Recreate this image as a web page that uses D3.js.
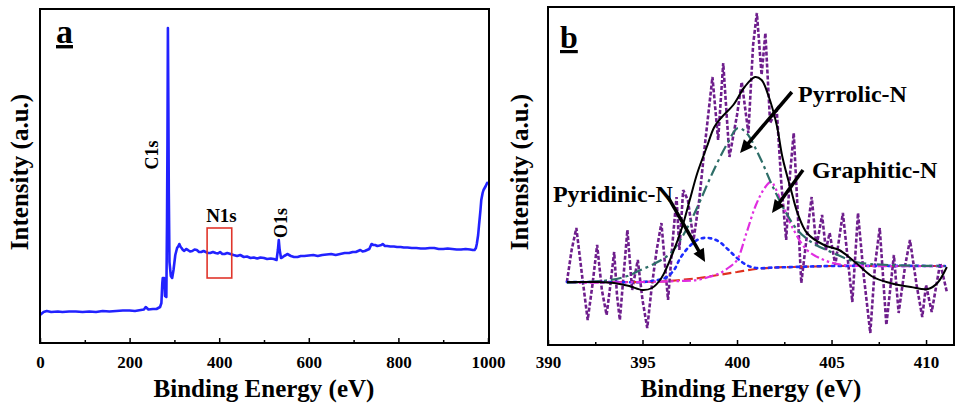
<!DOCTYPE html>
<html>
<head>
<meta charset="utf-8">
<script src="https://cdn.jsdelivr.net/npm/d3@7"></script>
<style>
  body { margin: 0; background: #fff; }
  text { font-family: "Liberation Serif", "Times New Roman", serif; font-weight: bold; fill: #000; }
</style>
</head>
<body>
<svg id="chart" width="956" height="405"></svg>
<script>
// ---- data ----
// survey spectrum, [binding energy eV, intensity a.u.]
var survey = [
  [0,28],[8,31],[15,32],[25,31],[40,31.5],[50,31],[65,31.5],[80,31.5],[95,31],[110,31.5],[125,31],[140,32],
  [155,31.5],[170,32],[185,32.5],[200,32.5],[212,32],[225,33],[232,33.5],[236,36],[242,33.5],[252,34],
  [260,34],[268,36],[271,40],[273,60],[274,65],[277,65],[278,58],[279,47],[282,46],[283.5,120],
  [284.5,200],[285.5,315],[286.5,240],[287.5,150],[289,81],[292,67],[295,65],[298,73],[302,88],
  [306,95],[309,97],[311,99],[314,96],[316,95],[319,93],[322,92],[326,94],[330,93],[335,91.5],[340,92],
  [345,93.5],[350,93],[355,91],[360,91],[365,92],[370,91],[375,90],[380,90],[386,91],[392,90],[397,89.5],
  [402,91],[407,89],[412,89],[418,90],[425,89],[432,88],[440,87],[447,88],[455,86],[462,86.5],[470,85],
  [477,85.5],[485,84.5],[492,85.5],[500,85],[507,84],[515,84.5],[522,84],[528,83],[531,93],[533,103],
  [535,93],[538,85],[542,86],[545,87],[549,88],[552,89],[556,88],[560,87],[567,86],[575,86],[582,87],
  [590,87],[600,87.5],[610,88],[620,87],[630,88],[640,88.5],[650,89],[660,88],[670,89],[680,90],[690,90],
  [698,91],[705,91],[710,92],[715,93],[720,91.5],[725,92],[730,93],[735,94],[738,97],[740,99],[744,98],
  [748,98],[753,97],[758,97.5],[762,98],[765,99],[770,97],[775,97],[782,96.5],[790,96.5],[797,96],
  [805,96],[812,95.5],[820,95.5],[830,95],[840,95],[850,94.5],[860,94.5],[870,95],[880,95],[890,94],
  [900,94],[910,94.5],[920,94],[930,93.5],[940,93.5],[950,94],[960,93.5],[966,93],[970,93],[973,95],
  [975,99],[978,108],[980,118],[983,132],[985,143],[988,150],[990,153],[995,157],[998,160],[1000,161]
];

// N1s high resolution, raw counts
var n1sRaw = [
  [391.0,63],[391.25,95],[391.5,117],[391.8,70],[392.1,25],[392.35,60],[392.6,100],[392.85,55],[393.1,30],
  [393.3,60],[393.5,93],[393.65,50],[393.8,25],[394.0,70],[394.2,115],[394.45,55],[394.75,85],[395.0,45],
  [395.25,17],[395.5,60],[395.75,95],[396.0,122],[396.35,45],[396.6,105],[396.8,148],[396.95,95],
  [397.15,155],[397.4,145],[397.7,105],[398.0,145],[398.3,200],[398.7,268],[399.0,205],[399.27,282],
  [399.6,188],[400.0,230],[400.25,263],[400.6,212],[400.85,300],[401.05,332],[401.3,270],[401.5,312],
  [401.75,222],[402.1,235],[402.35,160],[402.6,105],[402.8,170],[403.0,212],[403.4,62],[403.7,110],
  [403.95,148],[404.2,98],[404.5,130],[404.7,95],[404.9,112],[405.2,80],[405.6,132],[406.1,43],
  [406.4,132],[406.7,70],[407.05,12],[407.3,80],[407.55,117],[407.9,20],[408.3,90],[408.55,32],
  [408.9,80],[409.15,105],[409.5,60],[409.8,28],[410.0,60],[410.3,33],[410.75,82],[411.1,53]
];

var n1sBackground = [
  [391,63],[392,63],[393,63],[394,63],[395,63],[396,63.5],[397,65],[398,67],[399,70],[400,73],
  [401,76],[402,77.5],[403,78],[404,78.5],[405,79],[406,79],[408,79],[411,79]
];

var pyridinicN = [
  [391,63],[393,63],[395,63],[395.8,65],[396.3,68],[396.7,76],[397.0,87],[397.5,99],[398.0,106],
  [398.5,107],[399.0,104],[399.5,96],[400.0,87],[400.5,80],[401,77],[402,77.5],[403,78],[405,79],[411,79]
];

var pyrrolicN = [
  [391,62],[392,63],[393.3,65],[394.2,69],[394.9,75],[395.7,82],[396.5,92],[397.0,105],[397.5,122],
  [398.0,142],[398.7,172],[399.5,202],[400.05,217],[400.5,212],[401.2,188],[401.9,158],[402.6,132],
  [403.2,115],[404.0,102],[405.1,92],[406.3,83],[408,80],[411,79]
];

var graphiticN = [
  [391,62],[395,63],[397,64],[397.9,65],[398.5,68],[399.1,72],[399.6,78],[400.0,85],[400.5,112],
  [401.0,140],[401.5,158],[401.8,163],[402.3,145],[403.0,115],[403.7,95],[404.6,85],[405.6,80],
  [407,79],[411,79]
];

var n1sEnvelope = [
  [391,63],[392.5,63],[393.5,62],[394.3,59],[395.0,55],[395.5,57],[396.0,67],[396.6,92],[397.1,118],
  [397.5,145],[397.9,172],[398.4,198],[398.8,218],[399.2,228],[399.8,240],[400.4,258],[400.95,268],
  [401.3,265],[401.65,250],[402.1,220],[402.4,188],[402.9,152],[403.2,132],[403.7,112],[404.6,100],
  [405.4,95],[406.3,82],[407.2,68],[408.1,62],[409.2,58],[410.1,56],[410.6,62],[411.1,78]
];

var surveyTicks = [0, 200, 400, 600, 800, 1000];
var surveyMinor = [100, 300, 500, 700, 900];
var n1sTicks = [390, 395, 400, 405, 410];
var n1sMinor = [392.5, 397.5, 402.5, 407.5];

// ---- drawing ----
var svg = d3.select("#chart");
svg.append("rect").attr("width", 956).attr("height", 405).attr("fill", "#fff");

function drawAxis(g, x, y0, major, minor, pad) {
  g.append("g")
    .attr("transform", "translate(0," + y0 + ")")
    .call(d3.axisBottom(x).tickValues(major).tickSize(-5).tickPadding(pad).tickFormat(d3.format("d")))
    .call(function(a) {
      a.select(".domain").remove();
      a.selectAll("line").attr("stroke", "#000").attr("stroke-width", 1.5);
      a.selectAll("text").attr("font-size", 17).style("font-family", '"Liberation Serif", serif').style("font-weight", "bold");
    });
  g.append("g")
    .attr("transform", "translate(0," + y0 + ")")
    .call(d3.axisBottom(x).tickValues(minor).tickSize(-3).tickFormat(""))
    .call(function(a) {
      a.select(".domain").remove();
      a.selectAll("line").attr("stroke", "#000").attr("stroke-width", 1.5);
    });
}

function arrow(g, x1, y1, x2, y2) {
  var dx = x2 - x1, dy = y2 - y1, L = Math.hypot(dx, dy), ux = dx / L, uy = dy / L;
  var hl = 13, hw = 6;
  var bx = x2 - ux * hl, by = y2 - uy * hl;
  g.append("line").attr("x1", x1).attr("y1", y1).attr("x2", bx + ux * 2).attr("y2", by + uy * 2)
    .attr("stroke", "#000").attr("stroke-width", 3.5);
  g.append("path")
    .attr("d", "M" + x2 + "," + y2 + "L" + (bx - uy * hw) + "," + (by + ux * hw) + "L" + (bx + uy * hw) + "," + (by - ux * hw) + "Z")
    .attr("fill", "#000");
}

// panel a: survey
var xa = d3.scaleLinear().domain([0, 1000]).range([40, 488]);
var ya = d3.scaleLinear().domain([0, 334]).range([343, 9]);
var ga = svg.append("g");

ga.append("path")
  .datum(survey)
  .attr("fill", "none")
  .attr("stroke", "#2222ff")
  .attr("stroke-width", 2.6)
  .attr("stroke-linejoin", "round")
  .attr("d", d3.line().x(d => xa(d[0])).y(d => ya(d[1])));

// N1s window
ga.append("rect")
  .attr("x", xa(373)).attr("y", ya(115))
  .attr("width", xa(428) - xa(373)).attr("height", ya(65) - ya(115))
  .attr("fill", "none").attr("stroke", "#e0352b").attr("stroke-width", 1.6);

ga.append("rect").attr("x", 40).attr("y", 9).attr("width", 449).attr("height", 334)
  .attr("fill", "none").attr("stroke", "#000").attr("stroke-width", 2);
drawAxis(ga, xa, 343, surveyTicks, surveyMinor, 13);

ga.append("text").attr("x", 56).attr("y", 43).attr("font-size", 34)
  .style("text-decoration", "underline").text("a");
ga.append("text").attr("transform", "translate(" + xa(264) + "," + ya(188) + ") rotate(-90)")
  .attr("text-anchor", "middle").attr("font-size", 18).text("C1s");
ga.append("text").attr("transform", "translate(" + xa(551) + "," + ya(120) + ") rotate(-90)")
  .attr("text-anchor", "middle").attr("font-size", 18).text("O1s");
ga.append("text").attr("x", xa(405)).attr("y", ya(121)).attr("text-anchor", "middle")
  .attr("font-size", 19).text("N1s");

ga.append("text").attr("x", 264).attr("y", 397).attr("text-anchor", "middle")
  .attr("font-size", 25).text("Binding Energy (eV)");
ga.append("text").attr("transform", "translate(28,172) rotate(-90)").attr("text-anchor", "middle")
  .attr("font-size", 25).text("Intensity (a.u.)");

// panel b: N1s
var xb = d3.scaleLinear().domain([390, 411.5]).range([548, 954.4]);
var yb = d3.scaleLinear().domain([0, 338]).range([345, 7]);
var gb = svg.append("g");
var lineB = d3.line().x(d => xb(d[0])).y(d => yb(d[1]));
var smoothB = d3.line().x(d => xb(d[0])).y(d => yb(d[1])).curve(d3.curveCatmullRom);

gb.append("path").datum(n1sRaw)
  .attr("fill", "none").attr("stroke", "#6e1e8c").attr("stroke-width", 2.6)
  .attr("stroke-dasharray", "4,2").attr("d", lineB);

var fits = [
  { data: n1sBackground, color: "#e0301e", dash: "9,4", w: 2.2 },
  { data: pyridinicN, color: "#1c2cff", dash: "2.5,4.5", w: 2.6 },
  { data: graphiticN, color: "#e02ee0", dash: "9,3,2.5,3,2.5,3", w: 2.2 },
  { data: pyrrolicN, color: "#2e6e68", dash: "11,4,3,4", w: 2.2 },
  { data: n1sEnvelope, color: "#000", dash: null, w: 2 }
];
fits.forEach(function(f) {
  gb.append("path").datum(f.data)
    .attr("fill", "none").attr("stroke", f.color).attr("stroke-width", f.w)
    .attr("stroke-dasharray", f.dash)
    .attr("stroke-linecap", f.dash && f.dash.startsWith("2.5") ? "round" : "butt")
    .attr("d", smoothB);
});

arrow(gb, xb(402.9), yb(253), xb(400.16), yb(192));
arrow(gb, xb(403.49), yb(175), xb(401.85), yb(132));
arrow(gb, xb(396.35), yb(148), xb(398.31), yb(83));

gb.append("text").attr("x", xb(403.23)).attr("y", yb(243)).attr("font-size", 24).text("Pyrrolic-N");
gb.append("text").attr("x", xb(403.97)).attr("y", yb(167)).attr("font-size", 24).text("Graphitic-N");
gb.append("text").attr("x", xb(390.26)).attr("y", yb(143)).attr("font-size", 24).text("Pyridinic-N");

gb.append("rect").attr("x", 548).attr("y", 7).attr("width", 406).attr("height", 338)
  .attr("fill", "none").attr("stroke", "#000").attr("stroke-width", 2);
drawAxis(gb, xb, 345, n1sTicks, n1sMinor, 11);

gb.append("text").attr("x", 560).attr("y", 48).attr("font-size", 32)
  .style("text-decoration", "underline").text("b");
gb.append("text").attr("x", 751).attr("y", 397).attr("text-anchor", "middle")
  .attr("font-size", 25).text("Binding Energy (eV)");
gb.append("text").attr("transform", "translate(528,172) rotate(-90)").attr("text-anchor", "middle")
  .attr("font-size", 25).text("Intensity (a.u.)");
</script>
</body>
</html>
